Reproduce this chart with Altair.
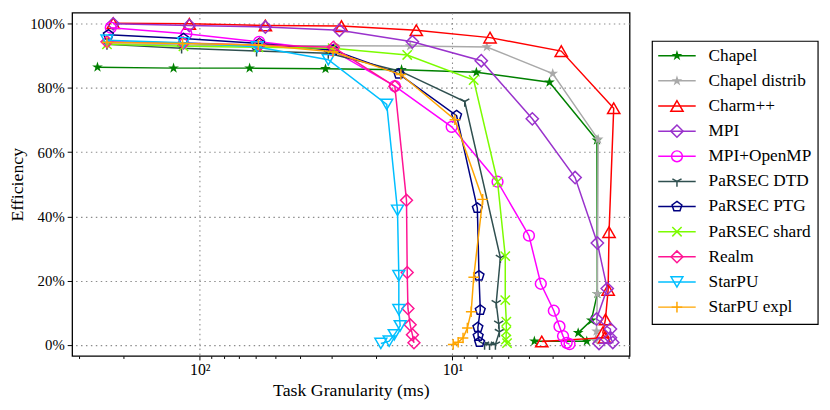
import altair as alt
import pandas as pd

# ---------------- data ----------------
series = ["Chapel", "Chapel distrib", "Charm++", "MPI", "MPI+OpenMP", "PaRSEC DTD",
          "PaRSEC PTG", "PaRSEC shard", "Realm", "StarPU", "StarPU expl"]
colors = ["#008000", "#a9a9a9", "#ff0000", "#9932cc", "#ff00ff", "#2f4f4f",
          "#000080", "#7cfc00", "#ff1493", "#00bfff", "#ffa500"]

chapel_g = [254, 127, 63.5, 31.8, 15.9, 8.04, 4.13, 2.68, 2.67, 2.82, 3.18, 2.94, 4.74]
chapel_e = [86.5, 86.2, 86.2, 86.0, 85.7, 84.9, 81.8, 63.7, 15.9, 7.6, 3.7, 1.1, 1.1]

chapel_d_g = [234, 117, 58.6, 29.3, 14.7, 7.31, 4.01, 2.65, 2.67, 2.69, 2.72]
chapel_d_e = [93.8, 93.4, 93.2, 93.2, 93.1, 92.8, 84.5, 64.0, 15.9, 4.2, 1.3]

charm_g = [220, 110, 55, 27.5, 13.9, 7.1, 3.71, 2.30, 2.40, 2.42, 2.48, 2.54, 2.50, 4.43]
charm_e = [100.2, 100.0, 99.5, 99.3, 98.0, 95.7, 91.5, 73.7, 35.1, 17.1, 7.9, 3.8, 2.2, 1.0]

mpi_g = [220, 110, 55, 28, 14.4, 7.69, 4.83, 3.27, 2.67, 2.44, 2.69, 2.37, 2.37, 2.32, 2.63]
mpi_e = [100.0, 99.5, 99.0, 98.0, 94.4, 88.5, 70.4, 52.1, 31.7, 17.5, 8.0, 4.9, 2.2, 0.7, 0.4]

mpiomp_g = [225, 113, 58.2, 29.9, 16.9, 10.07, 6.63, 4.98, 4.47, 3.97, 3.77, 3.65, 3.53, 3.44]
mpiomp_e = [98.8, 96.9, 94.4, 91.8, 80.6, 67.9, 50.8, 34.0, 19.0, 10.6, 5.7, 2.7, 0.6, 0.2]

dtd_g = [233, 118, 59.6, 31.0, 16.0, 8.94, 6.46, 6.71, 6.56, 6.52, 6.76, 7.13, 7.46]
dtd_e = [93.6, 92.4, 91.5, 90.8, 85.2, 75.8, 27.1, 13.0, 6.6, 4.0, 0.1, 0.0, 0.1]

ptg_g = [230, 116, 58, 29.6, 16.3, 9.63, 7.97, 7.85, 7.76, 7.93, 7.91, 7.81]
ptg_e = [96.6, 95.4, 93.9, 91.8, 84.4, 71.4, 42.6, 21.5, 10.8, 5.4, 2.7, 0.8]

shard_g = [233, 116, 58.6, 29.8, 15.1, 8.24, 6.63, 6.18, 6.18, 6.12, 6.12, 6.14, 6.08]
shard_e = [93.6, 93.0, 92.7, 92.4, 90.3, 82.5, 50.8, 27.6, 13.9, 7.2, 4.2, 1.6, 0.5]

realm_g = [233, 116, 58, 29.6, 16.9, 15.2, 15.1, 15.0, 14.7, 14.4, 14.2]
realm_e = [94.4, 94.0, 93.4, 92.7, 80.5, 45.0, 22.5, 11.3, 6.2, 3.1, 0.6]

starpu_g = [233, 116, 59.2, 31.0, 18.2, 16.5, 16.3, 16.3, 16.1, 17.0, 17.8, 19.2]
starpu_e = [94.9, 94.1, 92.8, 88.8, 74.9, 41.9, 21.5, 10.9, 5.9, 3.1, 1.1, 0.4]

starpux_g = [233, 117, 58.6, 29.7, 16.0, 9.78, 7.59, 8.24, 8.43, 8.73, 9.08, 9.49, 9.93]
starpux_e = [94.2, 93.9, 93.4, 91.3, 84.2, 70.1, 45.3, 21.0, 10.3, 5.2, 2.1, 0.8, 0.1]

gran = [chapel_g, chapel_d_g, charm_g, mpi_g, mpiomp_g, dtd_g, ptg_g, shard_g, realm_g, starpu_g, starpux_g]
effs = [chapel_e, chapel_d_e, charm_e, mpi_e, mpiomp_e, dtd_e, ptg_e, shard_e, realm_e, starpu_e, starpux_e]

x_ticks = [2, 3, 4, 5, 6, 7, 8, 9, 10, 20, 30, 40, 50, 60, 70, 80, 90, 100, 200, 300]
y_ticks = [0, 20, 40, 60, 80, 100]

# ---------------- marker styles ----------------
STAR = ("M0,-1L0.2245,-0.309L0.9511,-0.309L0.3633,0.118L0.5878,0.809L0,0.382"
        "L-0.5878,0.809L-0.3633,0.118L-0.9511,-0.309L-0.2245,-0.309Z")
PENT = "M0,-1L0.9511,-0.309L0.5878,0.809L-0.5878,0.809L-0.9511,-0.309Z"
TRI_DOWN = "M0,0L0,1M0,0L-0.866,-0.5M0,0L0.866,-0.5"
XMARK = "M-1,-1L1,1M-1,1L1,-1"
PLUS = "M-1,0L1,0M0,-1L0,1"
shapes = [STAR, STAR, "triangle-up", "diamond", "circle", TRI_DOWN, PENT, XMARK,
          "diamond", "triangle-down", PLUS]
sizes = [130, 130, 155, 155, 120, 115, 110, 90, 145, 145, 115]
filled = [True, True] + [False] * 9

rows = []
for s, g_list, e_list in zip(series, gran, effs):
    for i, (g, e) in enumerate(zip(g_list, e_list)):
        rows.append({"series": s, "i": i, "g": g, "e": e})
df = pd.DataFrame(rows)

FONT = "Liberation Serif"
major = "datum.value == 10 || datum.value == 100"

x_enc = alt.X(
    "g:Q",
    scale=alt.Scale(type="log", domain=[1.99, 320], reverse=True, nice=False),
    axis=alt.Axis(
        values=x_ticks,
        labelExpr="datum.value == 100 ? '10\u00b2' : (datum.value == 10 ? '10\u00b9' : '')",
        labelOverlap=False,
        labelFontSize=16,
        labelPadding=2,
        grid=True,
        gridOpacity={"condition": {"test": major, "value": 1}, "value": 0},
        tickSize={"condition": {"test": major, "value": 4}, "value": 2.5},
        titlePadding=4,
    ),
    title="Task Granularity (ms)",
)
y_enc = alt.Y(
    "e:Q",
    scale=alt.Scale(domain=[-3.5, 103.5], nice=False, zero=False),
    axis=alt.Axis(values=y_ticks, labelExpr="datum.value + '%'", tickSize=5,
                  labelPadding=3, titlePadding=3, grid=True),
    title="Efficiency",
)

layers = []
for s, c, shp, sz, f in zip(series, colors, shapes, sizes, filled):
    base = alt.Chart(df).transform_filter(alt.datum.series == s)
    layers.append(base.mark_line(color=c, strokeWidth=1.5).encode(x=x_enc, y=y_enc, order="i:Q"))
    if f:
        pm = base.mark_point(shape=shp, size=sz, filled=True, color=c, opacity=1)
    else:
        pm = base.mark_point(shape=shp, size=sz, filled=False, color=c, opacity=1, strokeWidth=1.5)
    layers.append(pm.encode(x=x_enc, y=y_enc))

main = alt.layer(*layers).properties(
    width=565, height=348,
    view=alt.ViewBackground(stroke="black", strokeWidth=1.3),
)

# ---------------- legend panel ----------------
leg_df = pd.DataFrame({"series": series})
y_leg = alt.Y("series:N",
              scale=alt.Scale(type="point", domain=series, range=[43.7, 298.5], padding=0),
              axis=None)

box = alt.Chart(pd.DataFrame({"b": [0]})).mark_rect(
    fill="white", fillOpacity=0, stroke="black", strokeWidth=1.2
).encode(x=alt.value(0), x2=alt.value(168), y=alt.value(29), y2=alt.value(316))

leg_layers = [box]
for s, c, shp, sz, f in zip(series, colors, shapes, sizes, filled):
    base = alt.Chart(leg_df).transform_filter(alt.datum.series == s)
    leg_layers.append(base.mark_rule(color=c, strokeWidth=1.5).encode(
        x=alt.value(6), x2=alt.value(44), y=y_leg))
    if f:
        pm = base.mark_point(shape=shp, size=sz, filled=True, color=c, opacity=1)
    else:
        pm = base.mark_point(shape=shp, size=sz, filled=False, color=c, opacity=1, strokeWidth=1.5)
    leg_layers.append(pm.encode(x=alt.value(25), y=y_leg))

leg_text = alt.Chart(leg_df).mark_text(
    align="left", baseline="middle", font=FONT, fontSize=17.5, color="black"
).encode(x=alt.value(57), y=y_leg, text="series:N")
leg_layers.append(leg_text)

legend = alt.layer(*leg_layers).properties(
    width=169, height=348,
    view=alt.ViewBackground(stroke="transparent"),
)

chart = alt.hconcat(main, legend, spacing=20).properties(
    padding={"left": 0, "top": 1, "right": 2, "bottom": 0}
).configure_axis(
    labelFont=FONT, titleFont=FONT, labelFontSize=15, titleFontSize=18,
    titleFontWeight="normal", labelColor="black", titleColor="black",
    tickColor="black", domain=False, gridColor="#8c8c8c", gridDash=[1.5, 3.5],
    gridWidth=1.1,
)

chart.save("out.html", embed_options={"renderer": "svg", "actions": False})
